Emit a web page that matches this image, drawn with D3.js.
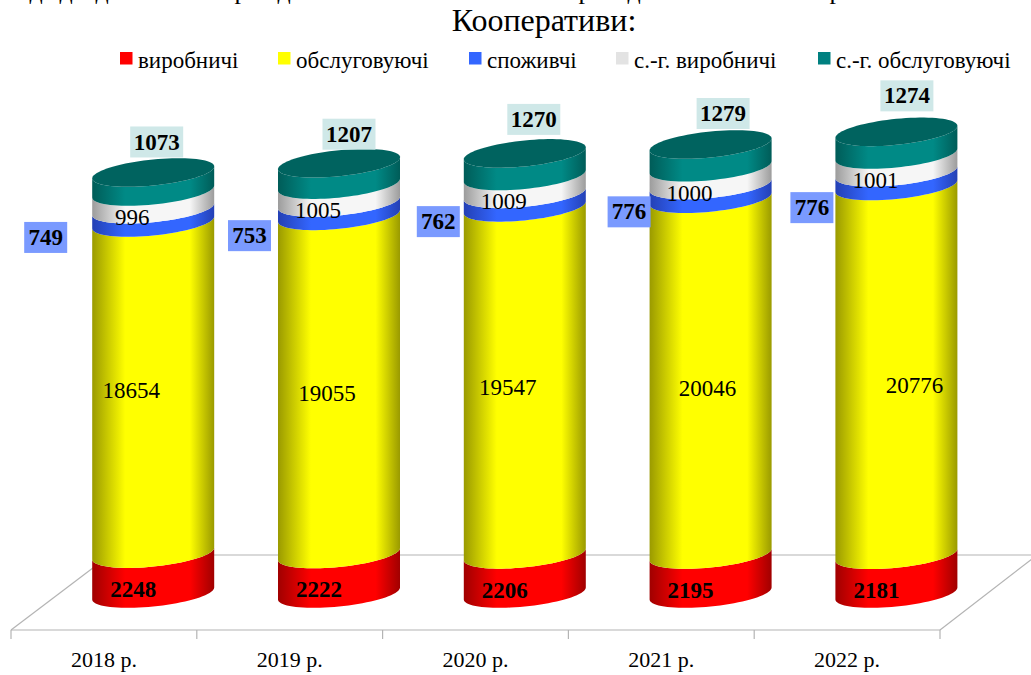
<!DOCTYPE html>
<html>
<head>
<meta charset="utf-8">
<script src="https://cdn.jsdelivr.net/npm/d3@7/dist/d3.min.js"></script>
<style>
  html, body { margin: 0; padding: 0; background: #fff; }
  svg { display: block; }
  text { font-family: "Liberation Serif", serif; fill: #000; }
</style>
</head>
<body>
<div id="chart"></div>
<script>
const years = ["2018 р.", "2019 р.", "2020 р.", "2021 р.", "2022 р."];
const seriesNames = ["виробничі", "обслуговуючі", "споживчі", "с.-г. виробничі", "с.-г. обслуговуючі"];

const vyrobnychi = [2248, 2222, 2206, 2195, 2181];
const obslugovuiuchi = [18654, 19055, 19547, 20046, 20776];
const spozhyvchi = [749, 753, 762, 776, 776];
const sgVyrobnychi = [996, 1005, 1009, 1000, 1001];
const sgObslugovuiuchi = [1073, 1207, 1270, 1279, 1274];

const seriesValues = [vyrobnychi, obslugovuiuchi, spozhyvchi, sgVyrobnychi, sgObslugovuiuchi];

const width = 1031, height = 675;

const svg = d3.select("#chart").append("svg")
  .attr("width", width)
  .attr("height", height);

// side colours: edge (dark) and middle (bright) of each cylinder band
const sideColors = [
  ["#a00000", "#ff0000"],
  ["#9a9a00", "#ffff00"],
  ["#2440b4", "#3366ff"],
  ["#9c9c9c", "#f6f6f6"],
  ["#005c58", "#008a86"]
];
const legendColors = ["#ff0000", "#ffff00", "#3366ff", "#e3e3e3", "#008080"];
const capColor = "#00635f";

const defs = svg.append("defs");
sideColors.forEach((c, i) => {
  const grad = defs.append("linearGradient").attr("id", "side" + i);
  grad.append("stop").attr("offset", "0%").attr("stop-color", c[0]);
  grad.append("stop").attr("offset", "27%").attr("stop-color", c[1]);
  grad.append("stop").attr("offset", "80%").attr("stop-color", c[1]);
  grad.append("stop").attr("offset", "100%").attr("stop-color", c[0]);
});

// scales
const x = d3.scaleBand().domain(years).range([11, 940]);
const y = d3.scaleLinear().domain([0, 30000]).range([593.5, 61]);

const depthShift = 49.3;   // cylinders stand in the middle of the floor depth
const rx = 61, ry = 13, skew = -6;

function cx(i) { return x(years[i]) + x.bandwidth() / 2 + depthShift; }

// a tilted ellipse, t from 0 (right edge) through PI/2 (front) to PI (left edge)
function ellipsePoint(cxv, cyv, t) {
  return [cxv + rx * Math.cos(t), cyv + ry * Math.sin(t) + skew * Math.cos(t)];
}

function bandPath(cxv, y0, y1) {
  const front = d3.range(0, 41).map(k => k / 40 * Math.PI);
  const lower = front.map(t => ellipsePoint(cxv, y0, t));
  const upper = front.map(t => ellipsePoint(cxv, y1, t)).reverse();
  return d3.line()(lower.concat(upper)) + "Z";
}

function capPath(cxv, yc) {
  const pts = d3.range(0, 80).map(k => ellipsePoint(cxv, yc, k / 80 * 2 * Math.PI));
  return d3.line()(pts) + "Z";
}

// floor
const floorColor = "#b4b4b4";
const floorFront = 630, floorBack = 555;
const floor = svg.append("g").attr("fill", "none").attr("stroke", floorColor).attr("stroke-width", 1.2);
floor.append("line").attr("x1", x.range()[0]).attr("x2", x.range()[1]).attr("y1", floorFront).attr("y2", floorFront);
floor.append("line").attr("x1", 110).attr("x2", 1031).attr("y1", floorBack).attr("y2", floorBack);
floor.append("line").attr("x1", x.range()[0]).attr("y1", floorFront).attr("x2", 110).attr("y2", floorBack);
floor.append("line").attr("x1", x.range()[1]).attr("y1", floorFront).attr("x2", 1037).attr("y2", floorBack);

d3.range(years.length + 1).forEach(i => {
  const tx = x.range()[0] + i * x.step();
  floor.append("line").attr("x1", tx).attr("x2", tx).attr("y1", floorFront).attr("y2", floorFront + 9);
});

// year labels
const axis = svg.append("g")
  .attr("transform", `translate(0,${floorFront})`)
  .call(d3.axisBottom(x).tickSize(0).tickPadding(21));
axis.select(".domain").remove();
axis.selectAll("text")
  .style("font-family", '"Liberation Serif", serif')
  .style("font-size", "22px")
  .attr("fill", "#000");

// cylinders
years.forEach((yr, i) => {
  const g = svg.append("g");
  let cum = 0;
  seriesValues.forEach((vals, s) => {
    const next = cum + vals[i];
    g.append("path")
      .attr("d", bandPath(cx(i), y(cum), y(next)))
      .attr("fill", `url(#side${s})`);
    cum = next;
  });
  g.append("path").attr("d", capPath(cx(i), y(cum))).attr("fill", capColor);
});

// hand placed data labels, offsets from the middle of each band
const yellowDx = [-22, -12, -17, -3, 18];
const yellowDy = [2, 8, 7, 12, 15];
const blueDx = [-107.5, -89.5, -86.5, -81.5, -84.5];
const blueDy = [21.6, 26.5, 21, 20, 28.5];
const tealDx = [3.5, 10, 9, 12.5, 10.5];
const tealDy = [-30.5, -29, -34, -31, -36];

function mid(s, i) {
  const below = d3.sum(seriesValues.slice(0, s), v => v[i]);
  return y(below + seriesValues[s][i] / 2);
}

function label(px, py, value, bold, bg) {
  const size = 23;
  if (bg) {
    const w = String(value).length === 4 ? 53 : 43;
    svg.append("rect")
      .attr("x", px - w / 2).attr("y", py - 15.5)
      .attr("width", w).attr("height", 31)
      .attr("fill", bg);
  }
  svg.append("text")
    .attr("x", px).attr("y", py)
    .attr("dy", "0.33em")
    .attr("text-anchor", "middle")
    .attr("font-size", size)
    .attr("font-weight", bold ? "bold" : "normal")
    .text(value);
}

years.forEach((yr, i) => {
  label(cx(i) - 20, mid(0, i) + 16, vyrobnychi[i], true);
  label(cx(i) + yellowDx[i], mid(1, i) + yellowDy[i], obslugovuiuchi[i], false);
  label(cx(i) + blueDx[i], mid(2, i) + blueDy[i], spozhyvchi[i], true, "#7a9aff");
  label(cx(i) - 21, mid(3, i) + 17, sgVyrobnychi[i], false);
  const top = y(d3.sum(seriesValues, v => v[i]));
  label(cx(i) + tealDx[i], top + tealDy[i], sgObslugovuiuchi[i], true, "#cfe8e8");
});

// legend
const legendX = [120, 278, 469, 616, 818];
const legend = svg.append("g");
seriesNames.forEach((name, i) => {
  legend.append("rect")
    .attr("x", legendX[i]).attr("y", 52)
    .attr("width", 12.5).attr("height", 12.5)
    .attr("fill", legendColors[i]);
  legend.append("text")
    .attr("x", legendX[i] + 18).attr("y", 67.5)
    .attr("font-size", 23)
    .text(name);
});

// title
svg.append("text")
  .attr("x", 544).attr("y", 31)
  .attr("text-anchor", "middle")
  .attr("font-size", 32)
  .text("Кооперативи:");

// the line above is cut by the top of the picture, only its descenders are left
const cutLetters = ["д", "д", "д", "р", "д", "р", "д", "р"];
const cutLetterX = [36, 66, 102, 241, 284, 585, 634, 836];
cutLetters.forEach((ch, i) => {
  svg.append("text")
    .attr("x", cutLetterX[i]).attr("y", -1)
    .attr("text-anchor", "middle")
    .attr("font-size", 26)
    .text(ch);
});
</script>
</body>
</html>
